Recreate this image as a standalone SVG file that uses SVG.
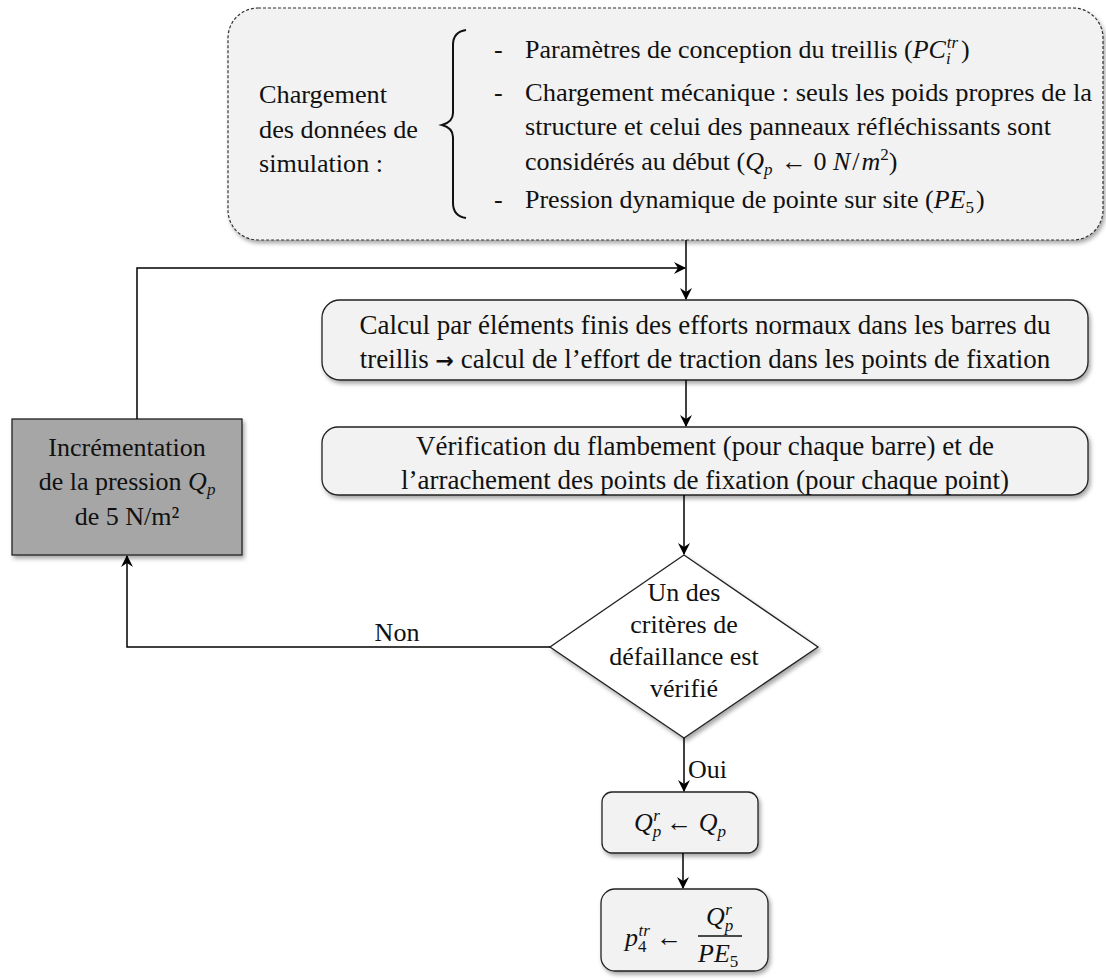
<svg xmlns="http://www.w3.org/2000/svg" width="1106" height="980" viewBox="0 0 1106 980">
<defs>
<filter id="sh" x="-10%" y="-10%" width="120%" height="130%">
<feDropShadow dx="2" dy="3" stdDeviation="2" flood-color="#000" flood-opacity="0.35"/>
</filter>
<marker id="ah" viewBox="0 0 12 12" refX="11" refY="6" markerWidth="12" markerHeight="12" markerUnits="userSpaceOnUse" orient="auto">
<path d="M0,0 L12,6 L0,12 L4,6 z" fill="#000"/>
</marker>
</defs>
<style>
.t{font-family:"Liberation Serif","Times New Roman",serif;font-size:26px;fill:#111}
.b{font-size:27px}
.m{font-style:italic}
.s{font-size:17px}
.box{fill:#f2f2f2;stroke:#222;stroke-width:1.3}
.c{fill:none;stroke:#000;stroke-width:1.5}
</style>
<rect width="1106" height="980" fill="#fff"/>

<g id="data">
<rect x="228" y="8" width="875" height="232" rx="30" fill="#f2f2f2" stroke="#333" stroke-width="1.2" stroke-dasharray="3,2" filter="url(#sh)"/>
<text class="t" x="259" y="103" textLength="128" lengthAdjust="spacingAndGlyphs">Chargement</text>
<text class="t" x="259" y="138" textLength="159" lengthAdjust="spacingAndGlyphs">des données de</text>
<text class="t" x="259" y="172" textLength="124" lengthAdjust="spacingAndGlyphs">simulation :</text>
<path d="M466,30 Q453,32 453,45 L453,113 Q453,122 442,125 Q453,128 453,137 L453,203 Q453,216 466,218" fill="none" stroke="#111" stroke-width="2"/>
<text class="t" x="494" y="58">-</text>
<text class="t" x="494" y="101">-</text>
<text class="t" x="494" y="208">-</text>
<text class="t" x="525" y="58">Paramètres de conception du treillis (<tspan class="m">PC</tspan><tspan class="m s" dy="6">i</tspan><tspan class="m s" dx="-4" dy="-16">tr</tspan><tspan dy="10" dx="3">)</tspan></text>
<text class="t" x="525" y="101" textLength="567" lengthAdjust="spacingAndGlyphs">Chargement mécanique : seuls les poids propres de la</text>
<text class="t" x="525" y="135" textLength="526" lengthAdjust="spacingAndGlyphs">structure et celui des panneaux réfléchissants sont</text>
<text class="t" x="525" y="170">considérés au début  (<tspan class="m">Q</tspan><tspan class="m s" dy="5">p</tspan><tspan dy="-5" dx="2"> ← 0 </tspan><tspan class="m">N</tspan><tspan dx="2">/</tspan><tspan class="m" dx="2">m</tspan><tspan class="s" dy="-10">2</tspan><tspan dy="10">)</tspan></text>
<text class="t" x="525" y="208">Pression dynamique de pointe sur site (<tspan class="m">PE</tspan><tspan class="s" dy="5">5</tspan><tspan dy="-5" dx="2">)</tspan></text>
</g>

<g id="calcul">
<rect class="box" x="322" y="300" width="766" height="80" rx="18" filter="url(#sh)"/>
<text class="t b" x="705" y="334" text-anchor="middle">Calcul par éléments finis des efforts normaux dans les barres du</text>
<text class="t b" x="705" y="368" text-anchor="middle">treillis <tspan font-family="DejaVu Sans" font-weight="bold" font-size="22">→</tspan> calcul de l’effort de traction dans les points de fixation</text>
</g>

<g id="verif">
<rect class="box" x="322" y="427" width="766" height="68" rx="16" filter="url(#sh)"/>
<text class="t b" x="705" y="455" text-anchor="middle">Vérification du flambement (pour chaque barre) et de</text>
<text class="t b" x="705" y="489" text-anchor="middle">l’arrachement des points de fixation (pour chaque point)</text>
</g>

<g id="incr">
<rect x="12" y="419" width="230" height="136" fill="#a6a6a6" stroke="#222" stroke-width="1.3" filter="url(#sh)"/>
<text class="t" x="127" y="456" text-anchor="middle">Incrémentation</text>
<text class="t" x="127" y="490" text-anchor="middle">de la pression <tspan class="m">Q</tspan><tspan class="m s" dy="5">p</tspan></text>
<text class="t" x="127" y="525" text-anchor="middle">de 5 N/m²</text>
</g>

<g id="decision">
<polygon points="684,555 818,647 684,738 550,647" fill="#fff" stroke="#222" stroke-width="1.3" filter="url(#sh)"/>
<text class="t" x="684" y="601" text-anchor="middle">Un des</text>
<text class="t" x="684" y="633" text-anchor="middle">critères de</text>
<text class="t" x="684" y="665" text-anchor="middle">défaillance est</text>
<text class="t" x="684" y="697" text-anchor="middle">vérifié</text>
</g>

<g id="qr">
<rect class="box" x="602" y="792" width="156" height="61" rx="10" filter="url(#sh)"/>
<text class="t" x="680" y="831" text-anchor="middle"><tspan class="m">Q</tspan><tspan class="m s" dy="6">p</tspan><tspan class="m s" dx="-8" dy="-16">r</tspan><tspan dy="10"> ← </tspan><tspan class="m">Q</tspan><tspan class="m s" dy="6">p</tspan></text>
</g>

<g id="ptr">
<rect class="box" x="601" y="889" width="167" height="82" rx="14" filter="url(#sh)"/>
<text class="t" x="625" y="946"><tspan class="m">p</tspan><tspan class="s" dy="6">4</tspan><tspan class="m s" dx="-8" dy="-16">tr</tspan><tspan dy="10"> ←</tspan></text>
<line x1="698" y1="936" x2="742" y2="936" stroke="#111" stroke-width="1.5"/>
<text class="t" x="706" y="925"><tspan class="m">Q</tspan><tspan class="m s" dy="6">p</tspan><tspan class="m s" dx="-8" dy="-16">r</tspan></text>
<text class="t" x="698" y="962"><tspan class="m">PE</tspan><tspan class="s" dy="5">5</tspan></text>
</g>

<g id="connectors">
<line class="c" x1="686" y1="240" x2="686" y2="299" marker-end="url(#ah)"/>
<polyline class="c" points="137,419 137,268 685,268" marker-end="url(#ah)"/>
<line class="c" x1="686" y1="380" x2="686" y2="426" marker-end="url(#ah)"/>
<line class="c" x1="684" y1="495" x2="684" y2="554" marker-end="url(#ah)"/>
<polyline class="c" points="550,647 127,647 127,556" marker-end="url(#ah)"/>
<text class="t" x="397" y="641" text-anchor="middle">Non</text>
<line class="c" x1="684" y1="738" x2="684" y2="791" marker-end="url(#ah)"/>
<text class="t" x="688" y="778">Oui</text>
<line class="c" x1="683" y1="853" x2="683" y2="888" marker-end="url(#ah)"/>
</g>
</svg>
